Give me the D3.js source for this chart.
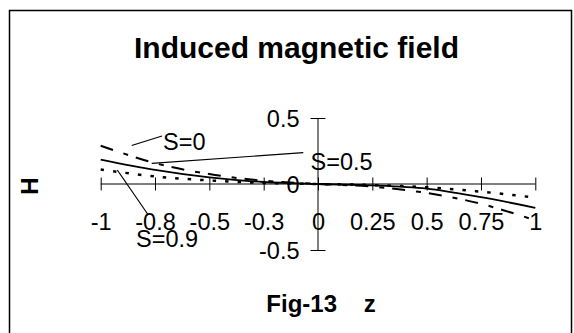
<!DOCTYPE html>
<html>
<head>
<meta charset="utf-8">
<script src="https://cdn.jsdelivr.net/npm/d3@7"></script>
<style>
  html, body { margin: 0; padding: 0; background: #fff; }
  svg { display: block; font-family: "Liberation Sans", Arial, sans-serif; }
</style>
</head>
<body>
<svg id="chart" width="574" height="333"></svg>
<script>
// ---- data ----
const zValues = [-1, -0.75, -0.5, -0.25, 0, 0.25, 0.5, 0.75, 1];
const hS0  = [0.29, 0.158, 0.075, 0.025, 0, -0.02, -0.068, -0.15, -0.275];
const hS05 = [0.185, 0.107, 0.05, 0.015, 0, -0.01, -0.035, -0.1, -0.18];
const hS09 = [0.11, 0.057, 0.027, 0.008, 0, -0.008, -0.025, -0.058, -0.103];
const seriesNames = ["S=0", "S=0.5", "S=0.9"];
const xTickValues = [-1, -0.75, -0.5, -0.25, 0, 0.25, 0.5, 0.75, 1];
const xTickLabels = ["-1", "-0.8", "-0.5", "-0.3", "0", "0.25", "0.5", "0.75", "1"];
const yTickValues = [0.5, 0, -0.5];
const yTickLabels = ["0.5", "0", "-0.5"];
const titleText = "Induced magnetic field";
const xTitleText = "Fig-13    z";
const yTitleText = "H";

// ---- layout ----
const svg = d3.select("#chart");
const x = d3.scaleLinear().domain([-1, 1]).range([100.7, 535.3]);
const y = d3.scaleLinear().domain([-0.5, 0.5]).range([250, 118]);
const labelFont = 23.5;

// frame
svg.append("rect").attr("x", 9.5).attr("y", 10.5).attr("width", 562).attr("height", 340)
  .attr("fill", "none").attr("stroke", "#000").attr("stroke-width", 1.5);

// title
svg.append("text").attr("x", 296.5).attr("y", 58.3).attr("text-anchor", "middle")
  .attr("font-size", 30).attr("font-weight", "bold").text(titleText);

// axes lines
svg.append("line").attr("x1", x(-1)).attr("x2", x(1)).attr("y1", y(0)).attr("y2", y(0))
  .attr("stroke", "#000").attr("stroke-width", 1);
svg.append("line").attr("x1", x(0)).attr("x2", x(0)).attr("y1", y(0.5)).attr("y2", y(-0.5))
  .attr("stroke", "#000").attr("stroke-width", 1);

// x axis ticks (crossing)
const xAxisG = svg.append("g").attr("transform", `translate(0,${y(0) - 6.5})`)
  .call(d3.axisBottom(x).tickValues(xTickValues).tickFormat((d, i) => xTickLabels[i]).tickSize(13));
xAxisG.select(".domain").remove();
xAxisG.selectAll(".tick line").attr("stroke", "#000");
xAxisG.selectAll(".tick text").attr("y", 52).attr("dy", null)
  .attr("font-size", labelFont).attr("font-family", "Liberation Sans, Arial, sans-serif")
  .attr("fill", "#000");

// y axis ticks (crossing)
const yAxisG = svg.append("g").attr("transform", `translate(${x(0) + 7.5},0)`)
  .call(d3.axisLeft(y).tickValues(yTickValues).tickFormat((d, i) => yTickLabels[i]).tickSize(15));
yAxisG.select(".domain").remove();
yAxisG.selectAll(".tick line").attr("stroke", "#000");
yAxisG.selectAll(".tick text").attr("x", -26).attr("dy", "0.36em")
  .attr("font-size", labelFont).attr("font-family", "Liberation Sans, Arial, sans-serif")
  .attr("fill", "#000");

// axis titles
svg.append("text").attr("transform", "translate(38,186) rotate(-90)").attr("text-anchor", "middle")
  .attr("font-size", 24).attr("font-weight", "bold").text(yTitleText);
svg.append("text").attr("x", 321).attr("y", 311.7).attr("text-anchor", "middle")
  .attr("font-size", 24).attr("font-weight", "bold").style("white-space", "pre").text(xTitleText);

// series
const line = d3.line().x(d => x(d[0])).y(d => y(d[1])).curve(d3.curveCatmullRom.alpha(0.5));
const series = [
  { vals: hS0,  dash: "13,11,5,8", w: 2 },
  { vals: hS05, dash: null, w: 1.8 },
  { vals: hS09, dash: "3.5,9", w: 2.5 }
];
series.forEach(s => {
  svg.append("path").datum(zValues.map((z, i) => [z, s.vals[i]]))
    .attr("d", line).attr("fill", "none").attr("stroke", "#000")
    .attr("stroke-width", s.w).attr("stroke-dasharray", s.dash);
});

// annotations (leader lines + labels)
const ann = [
  { name: seriesNames[0], l: [131.7, 145.5, 162, 136], t: [163, 150] },
  { name: seriesNames[1], l: [151.7, 163.3, 303.3, 152.7], t: [310.5, 170] },
  { name: seriesNames[2], l: [117.3, 170, 148.3, 215], t: [136, 246.5] }
];
ann.forEach(a => {
  svg.append("line").attr("x1", a.l[0]).attr("y1", a.l[1]).attr("x2", a.l[2]).attr("y2", a.l[3])
    .attr("stroke", "#000").attr("stroke-width", 1.2);
  svg.append("text").attr("x", a.t[0]).attr("y", a.t[1]).attr("font-size", labelFont)
    .text(a.name);
});
</script>
</body>
</html>
